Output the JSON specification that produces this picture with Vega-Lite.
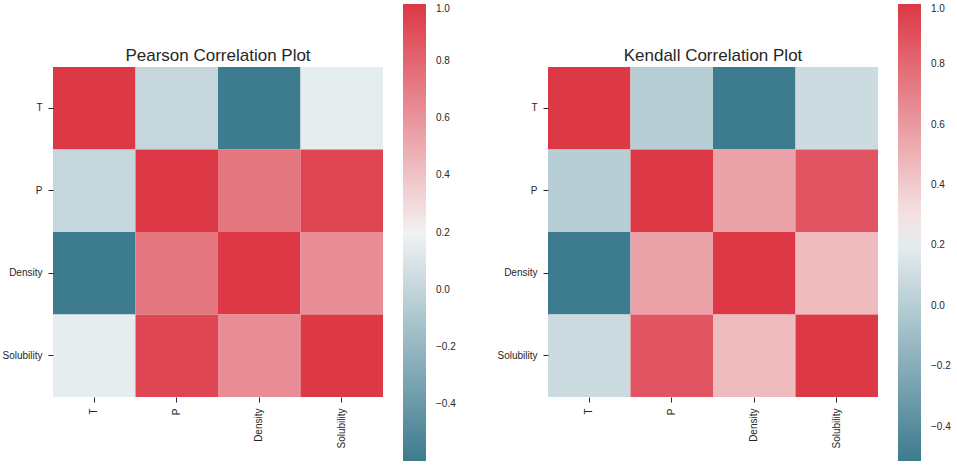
{
  "$schema": "https://vega.github.io/schema/vega-lite/v6.json",
  "padding": {"left": 1, "top": 4, "right": 5, "bottom": 4},
  "background": "white",
  "bounds": "flush",
  "spacing": 165,
  "config": {
    "view": {"stroke": null},
    "font": "Liberation Sans",
    "axis": {
      "domain": false,
      "grid": false,
      "ticks": true,
      "tickColor": "#262626",
      "tickSize": 5,
      "tickWidth": 1,
      "labelPadding": 6,
      "labelFontSize": 10,
      "labelColor": "#262626",
      "labelFont": "Liberation Sans"
    },
    "legend": {
      "labelFont": "Liberation Sans",
      "labelFontSize": 10,
      "labelColor": "#262626",
      "gradientStrokeWidth": 0
    }
  },
  "datasets": {
    "pearson": [
      {"row": "T", "col": "T", "value": 1.0},
      {"row": "T", "col": "P", "value": 0.01},
      {"row": "T", "col": "Density", "value": -0.6},
      {"row": "T", "col": "Solubility", "value": 0.16},
      {"row": "P", "col": "T", "value": 0.01},
      {"row": "P", "col": "P", "value": 1.0},
      {"row": "P", "col": "Density", "value": 0.73},
      {"row": "P", "col": "Solubility", "value": 0.94},
      {"row": "Density", "col": "T", "value": -0.6},
      {"row": "Density", "col": "P", "value": 0.73},
      {"row": "Density", "col": "Density", "value": 1.0},
      {"row": "Density", "col": "Solubility", "value": 0.63},
      {"row": "Solubility", "col": "T", "value": 0.16},
      {"row": "Solubility", "col": "P", "value": 0.94},
      {"row": "Solubility", "col": "Density", "value": 0.63},
      {"row": "Solubility", "col": "Solubility", "value": 1.0}
    ],
    "kendall": [
      {"row": "T", "col": "T", "value": 1.0},
      {"row": "T", "col": "P", "value": 0.01},
      {"row": "T", "col": "Density", "value": -0.514},
      {"row": "T", "col": "Solubility", "value": 0.09},
      {"row": "P", "col": "T", "value": 0.01},
      {"row": "P", "col": "P", "value": 1.0},
      {"row": "P", "col": "Density", "value": 0.56},
      {"row": "P", "col": "Solubility", "value": 0.88},
      {"row": "Density", "col": "T", "value": -0.514},
      {"row": "Density", "col": "P", "value": 0.56},
      {"row": "Density", "col": "Density", "value": 1.0},
      {"row": "Density", "col": "Solubility", "value": 0.46},
      {"row": "Solubility", "col": "T", "value": 0.09},
      {"row": "Solubility", "col": "P", "value": 0.88},
      {"row": "Solubility", "col": "Density", "value": 0.46},
      {"row": "Solubility", "col": "Solubility", "value": 1.0}
    ]
  },
  "hconcat": [
    {
      "title": {"text": "Pearson Correlation Plot", "fontSize": 17, "fontWeight": "normal", "color": "#262626", "offset": -61, "frame": "group", "anchor": "middle", "font": "Liberation Sans"},
      "data": {"name": "pearson"},
      "width": 330,
      "height": 330,
      "mark": {"type": "rect"},
      "encoding": {
        "x": {"field": "col", "type": "nominal", "sort": ["T", "P", "Density", "Solubility"], "title": null, "axis": {"labelAngle": -90}},
        "y": {"field": "row", "type": "nominal", "sort": ["T", "P", "Density", "Solubility"], "title": null, "axis": {"labelAngle": 0}},
        "color": {
          "field": "value",
          "type": "quantitative",
          "scale": {"domain": [-0.6, 0.199, 0.201, 1.0], "range": ["#3d7b8f", "#eff3f4", "#f5f0f0", "#dc3846"], "interpolate": "rgb"},
          "legend": {
            "title": null,
            "orient": "none",
            "direction": "vertical",
            "legendX": 350,
            "legendY": -63,
            "gradientLength": 457,
            "gradientThickness": 23,
            "labelOffset": 10,
            "values": [-0.4, -0.2, 0, 0.2, 0.4, 0.6, 0.8, 1.0],
            "format": ".1f",
            "labelOverlap": false
          }
        }
      }
    },
    {
      "title": {"text": "Kendall Correlation Plot", "fontSize": 17, "fontWeight": "normal", "color": "#262626", "offset": -61, "frame": "group", "anchor": "middle", "font": "Liberation Sans"},
      "data": {"name": "kendall"},
      "width": 330,
      "height": 330,
      "mark": {"type": "rect"},
      "encoding": {
        "x": {"field": "col", "type": "nominal", "sort": ["T", "P", "Density", "Solubility"], "title": null, "axis": {"labelAngle": -90}},
        "y": {"field": "row", "type": "nominal", "sort": ["T", "P", "Density", "Solubility"], "title": null, "axis": {"labelAngle": 0}},
        "color": {
          "field": "value",
          "type": "quantitative",
          "scale": {"domain": [-0.514, 0.242, 0.244, 1.0], "range": ["#3d7b8f", "#eff3f4", "#f5f0f0", "#dc3846"], "interpolate": "rgb"},
          "legend": {
            "title": null,
            "orient": "none",
            "direction": "vertical",
            "legendX": 350,
            "legendY": -63,
            "gradientLength": 457,
            "gradientThickness": 23,
            "labelOffset": 10,
            "values": [-0.4, -0.2, 0, 0.2, 0.4, 0.6, 0.8, 1.0],
            "format": ".1f",
            "labelOverlap": false
          }
        }
      }
    }
  ],
  "resolve": {"scale": {"color": "independent"}, "legend": {"color": "independent"}}
}
